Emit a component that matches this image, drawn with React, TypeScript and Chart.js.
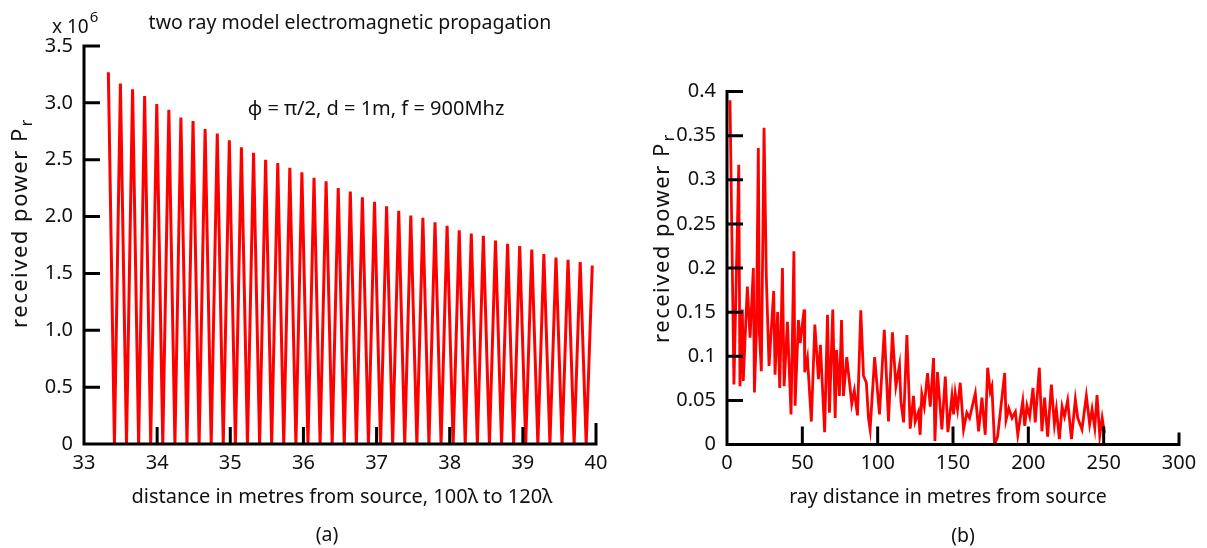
import React, { useEffect, useRef } from "react";
import { Chart, registerables } from "chart.js";

Chart.register(...registerables);

const FONT = '"Noto Sans", "DejaVu Sans", sans-serif';
const TEXT = "#111";
const RED = "#ff0000";

// ---------- panel (a): 100λ to 120λ ----------
const distA = [
  33.333, 33.416, 33.498, 33.581, 33.664, 33.747, 33.829, 33.912, 33.995, 34.077,
  34.16, 34.243, 34.325, 34.408, 34.491, 34.574, 34.656, 34.739, 34.822, 34.904,
  34.987, 35.07, 35.152, 35.235, 35.318, 35.401, 35.483, 35.566, 35.649, 35.731,
  35.814, 35.897, 35.979, 36.062, 36.145, 36.228, 36.31, 36.393, 36.476, 36.558,
  36.641, 36.724, 36.806, 36.889, 36.972, 37.055, 37.137, 37.22, 37.303, 37.385,
  37.468, 37.551, 37.633, 37.716, 37.799, 37.882, 37.964, 38.047, 38.13, 38.212,
  38.295, 38.378, 38.46, 38.543, 38.626, 38.709, 38.791, 38.874, 38.957, 39.039,
  39.122, 39.205, 39.287, 39.37, 39.453, 39.536, 39.618, 39.701, 39.784, 39.866,
  39.949,
];
// received power, in units of 10^6
const powerA = [
  3.27, 0, 3.17, 0, 3.12, 0, 3.06, 0, 2.99, 0, 2.94, 0, 2.87, 0, 2.84, 0, 2.77, 0, 2.73, 0,
  2.67, 0, 2.61, 0, 2.56, 0, 2.5, 0, 2.47, 0, 2.43, 0, 2.39, 0, 2.34, 0, 2.31, 0, 2.25, 0,
  2.22, 0, 2.17, 0, 2.13, 0, 2.09, 0, 2.05, 0, 2.01, 0, 1.99, 0, 1.95, 0, 1.92, 0, 1.88, 0,
  1.85, 0, 1.83, 0, 1.79, 0, 1.76, 0, 1.74, 0, 1.71, 0, 1.67, 0, 1.64, 0, 1.62, 0, 1.6, 0,
  1.57,
];
const xRangeA = [33, 40];
const yRangeA = [0, 3.5];

// ---------- panel (b): ray distance ----------
const rayDist = [
  2.0, 4.6, 7.8, 8.6, 10.2, 10.8, 13.5, 15.3, 17.5, 18.2,
  19.5, 20.8, 21.5, 22.8, 24.6, 26.1, 27.9, 31.0, 31.9, 33.6,
  35.0, 36.8, 37.9, 40.1, 42.5, 44.4, 45.2, 47.4, 48.6, 51.2,
  51.6, 53.4, 56.0, 58.3, 60.7, 62.0, 64.8, 66.7, 68.0, 70.2,
  71.8, 72.7, 74.6, 76.0, 77.3, 79.5, 82.8, 84.5, 86.6, 88.8,
  90.6, 92.5, 93.9, 95.0, 98.0, 101.2, 104.4, 107.2, 109.8, 112.1,
  114.5, 115.4, 117.2, 119.4, 121.6, 123.8, 124.9, 127.1, 128.2, 129.3,
  130.9, 133.1, 134.9, 137.1, 138.0, 139.7, 142.6, 144.9, 146.6, 149.3,
  150.4, 151.5, 153.0, 154.8, 157.0, 159.2, 161.0, 164.8, 167.0, 169.2,
  171.4, 173.0, 174.7, 175.8, 177.6, 179.6, 184.3, 185.2, 187.0, 189.2,
  191.4, 193.0, 196.3, 197.6, 199.1, 200.9, 203.1, 204.6, 207.3, 209.0,
  210.8, 212.8, 215.3, 217.3, 218.6, 220.6, 222.4, 224.0, 226.1, 228.6,
  231.2, 232.8, 235.6, 238.5, 240.7, 242.3, 244.1, 245.6, 247.4, 249.0,
  250.5,
];
const rayPower = [
  0.39, 0.068, 0.317, 0.066, 0.153, 0.072, 0.179, 0.121, 0.2, 0.059,
  0.127, 0.336, 0.127, 0.083, 0.359, 0.19, 0.089, 0.174, 0.079, 0.15,
  0.064, 0.2, 0.066, 0.139, 0.034, 0.219, 0.044, 0.141, 0.115, 0.153,
  0.082, 0.098, 0.026, 0.136, 0.074, 0.113, 0.014, 0.147, 0.036, 0.153,
  0.03, 0.107, 0.055, 0.141, 0.055, 0.099, 0.046, 0.061, 0.033, 0.152,
  0.078, 0.07, 0.03, 0.017, 0.099, 0.034, 0.13, 0.026, 0.127, 0.066,
  0.09, 0.049, 0.025, 0.124, 0.018, 0.055, 0.026, 0.037, 0.011, 0.057,
  0.043, 0.081, 0.043, 0.098, 0.004, 0.082, 0.017, 0.077, 0.014, 0.055,
  0.034, 0.058, 0.04, 0.07, 0.017, 0.036, 0.03, 0.058, 0.015, 0.053,
  0.011, 0.087, 0.06, 0.066, 0.0, 0.009, 0.081, 0.028, 0.041, 0.03,
  0.037, 0.011, 0.049, 0.021, 0.044, 0.032, 0.064, 0.025, 0.087, 0.015,
  0.053, 0.009, 0.068, 0.023, 0.04, 0.006, 0.043, 0.032, 0.05, 0.006,
  0.051, 0.03, 0.017, 0.055, 0.023, 0.04, 0.019, 0.056, 0.01, 0.03,
  0.013,
];
const xRangeB = [0, 300];
const yRangeB = [0, 0.4];

// ---------- helpers ----------
function axesPlugin(yTickLen: number, xTickLen: number, lastXTickLen: number) {
  return {
    id: "inwardAxes",
    afterDatasetsDraw(chart: any) {
      const { ctx, chartArea: a, scales } = chart;
      const x = scales.x;
      const y = scales.y;
      ctx.save();
      ctx.strokeStyle = "#000";
      ctx.lineWidth = 3;
      ctx.lineCap = "butt";
      ctx.beginPath();
      ctx.moveTo(a.left, a.top - 1.5);
      ctx.lineTo(a.left, a.bottom + 1.5);
      ctx.moveTo(a.left - 1.5, a.bottom);
      ctx.lineTo(a.right + 1.5, a.bottom);
      y.ticks.forEach((t: any) => {
        if (t.value === y.min) return;
        const py = y.getPixelForValue(t.value);
        ctx.moveTo(a.left, py);
        ctx.lineTo(a.left + yTickLen, py);
      });
      x.ticks.forEach((t: any) => {
        if (t.value === x.min) return;
        const px = x.getPixelForValue(t.value);
        const len = t.value === x.max ? lastXTickLen : xTickLen;
        ctx.moveTo(px, a.bottom);
        ctx.lineTo(px, a.bottom - len);
      });
      ctx.stroke();
      ctx.restore();
    },
  };
}

function drawYLabel(ctx: CanvasRenderingContext2D, cx: number, cy: number, size: number, spacing: number) {
  ctx.save();
  ctx.translate(cx, cy);
  ctx.rotate(-Math.PI / 2);
  ctx.fillStyle = TEXT;
  ctx.textBaseline = "middle";
  ctx.textAlign = "left";
  (ctx as any).letterSpacing = `${spacing}px`;
  const main = "received power P";
  const subSize = Math.round(size * 0.72);
  ctx.font = `${size}px ${FONT}`;
  const w1 = ctx.measureText(main).width;
  ctx.font = `${subSize}px ${FONT}`;
  const w2 = ctx.measureText("r").width;
  const start = -(w1 + w2 + 1) / 2;
  ctx.font = `${size}px ${FONT}`;
  ctx.fillText(main, start, 0);
  ctx.font = `${subSize}px ${FONT}`;
  ctx.fillText("r", start + w1 + 1, size * 0.3);
  ctx.restore();
}

function textPlugin(draw: (ctx: CanvasRenderingContext2D, chart: any) => void) {
  return {
    id: "panelTexts",
    afterDraw(chart: any) {
      const ctx = chart.ctx as CanvasRenderingContext2D;
      ctx.save();
      ctx.fillStyle = TEXT;
      draw(ctx, chart);
      ctx.restore();
    },
  };
}

function centerText(ctx: CanvasRenderingContext2D, s: string, x: number, y: number, size: number) {
  ctx.font = `${size}px ${FONT}`;
  ctx.textAlign = "center";
  ctx.textBaseline = "alphabetic";
  ctx.fillText(s, x, y);
}

function baseScales(xr: number[], yr: number[], xStep: number, yStep: number, yFmt: (v: number) => string, yWidth: number) {
  const tickFont = { family: FONT, size: 20 };
  return {
    x: {
      type: "linear",
      min: xr[0],
      max: xr[1],
      grid: { display: false, drawTicks: false },
      border: { display: false },
      ticks: { stepSize: xStep, padding: 7, font: tickFont, color: TEXT, maxRotation: 0, autoSkip: false },
      afterFit: (s: any) => {
        s.height = 40;
      },
    },
    y: {
      type: "linear",
      min: yr[0],
      max: yr[1],
      grid: { display: false, drawTicks: false },
      border: { display: false },
      ticks: { stepSize: yStep, padding: 11, font: tickFont, color: TEXT, callback: (v: any) => yFmt(Number(v)) },
      afterFit: (s: any) => {
        s.width = yWidth;
      },
    },
  };
}

function ChartCanvas({ left, width, makeConfig }: { left: number; width: number; makeConfig: () => any }) {
  const ref = useRef<HTMLCanvasElement | null>(null);
  useEffect(() => {
    if (!ref.current) return;
    const chart = new Chart(ref.current, makeConfig());
    return () => chart.destroy();
  }, []);
  return (
    <canvas
      ref={ref}
      width={width}
      height={548}
      style={{ position: "absolute", left, top: 0, width, height: 548 }}
    />
  );
}

function configA() {
  return {
    type: "line",
    data: {
      datasets: [
        {
          data: distA.map((d, i) => ({ x: d, y: powerA[i] })),
          borderColor: RED,
          borderWidth: 3,
          pointRadius: 0,
          tension: 0,
          fill: false,
        },
      ],
    },
    options: {
      animation: false,
      responsive: false,
      events: [],
      layout: { padding: { left: 0, right: 24, top: 46, bottom: 64 } },
      plugins: { legend: { display: false }, tooltip: { enabled: false } },
      scales: baseScales(xRangeA, yRangeA, 1, 0.5, (v) => (v === 0 ? "0" : v.toFixed(1)), 84),
    },
    plugins: [
      axesPlugin(16, 17, 21),
      textPlugin((ctx) => {
        centerText(ctx, "two ray model electromagnetic propagation", 350, 29, 19.5);
        // x 10^6
        ctx.font = `19px ${FONT}`;
        ctx.textAlign = "left";
        ctx.textBaseline = "alphabetic";
        ctx.fillText("x 10", 52, 33);
        const w = ctx.measureText("x 10").width;
        ctx.font = `15px ${FONT}`;
        ctx.fillText("6", 52 + w + 1, 22);
        centerText(ctx, "ϕ = π/2, d = 1m, f = 900Mhz", 376, 115, 20);
        centerText(ctx, "distance in metres from source, 100λ to 120λ", 342, 503, 20);
        centerText(ctx, "(a)", 327, 541, 19.5);
        drawYLabel(ctx, 21, 223, 22, 1.5);
      }),
    ],
  };
}

function configB() {
  return {
    type: "line",
    data: {
      datasets: [
        {
          data: rayDist.map((d, i) => ({ x: d, y: rayPower[i] })),
          borderColor: RED,
          borderWidth: 2.8,
          pointRadius: 0,
          tension: 0,
          fill: false,
        },
      ],
    },
    options: {
      animation: false,
      responsive: false,
      events: [],
      layout: { padding: { left: 0, right: 587 - 559, top: 91.5, bottom: 548 - 444.5 - 40 } },
      plugins: { legend: { display: false }, tooltip: { enabled: false } },
      scales: baseScales(xRangeB, yRangeB, 50, 0.05, (v) => String(Number(v.toFixed(2))), 107),
    },
    plugins: [
      axesPlugin(16, 18, 12),
      textPlugin((ctx) => {
        centerText(ctx, "ray distance in metres from source", 328, 503, 19.5);
        centerText(ctx, "(b)", 343, 542, 19.5);
        drawYLabel(ctx, 43, 238, 22, 1.5);
      }),
    ],
  };
}

export default function App() {
  return (
    <div style={{ position: "absolute", left: 0, top: 0, width: 1207, height: 548, background: "#fff" }}>
      <ChartCanvas left={0} width={620} makeConfig={configA} />
      <ChartCanvas left={620} width={587} makeConfig={configB} />
    </div>
  );
}
